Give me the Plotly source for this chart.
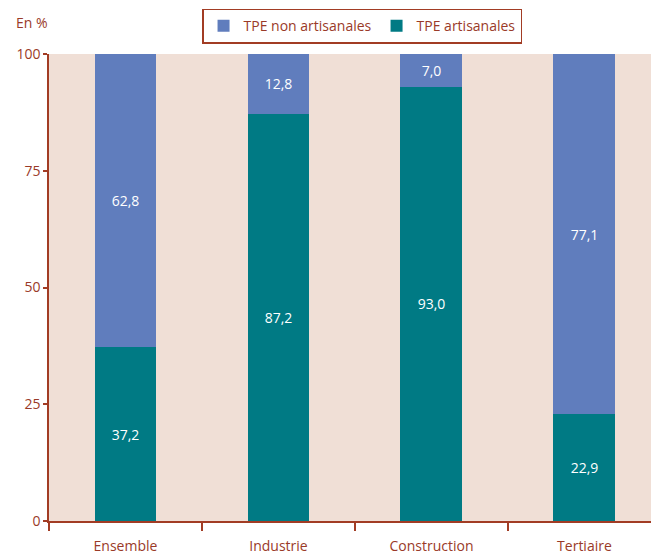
import plotly.graph_objects as go

categories = ["Ensemble", "Industrie", "Construction", "Tertiaire"]
non_artisanales = [62.8, 12.8, 7.0, 77.1]
artisanales = [37.2, 87.2, 93.0, 22.9]
yticks = [0, 25, 50, 75, 100]

def fr(v):
    return f"{v:.1f}".replace(".", ",")

AX = "#a23c24"
TXT = "#9a3a28"
FONT = "Open Sans"

fig = go.Figure()
fig.add_trace(go.Bar(
    x=categories, y=artisanales, name="TPE artisanales",
    marker=dict(color="#007a84", line=dict(width=0)),
    text=[fr(v) for v in artisanales], textposition="inside",
    insidetextanchor="middle", textangle=0,
    textfont=dict(color="white", size=14, family=FONT), width=0.405,
))
fig.add_trace(go.Bar(
    x=categories, y=non_artisanales, name="TPE non artisanales",
    marker=dict(color="#607dbd", line=dict(width=0)),
    text=[fr(v) for v in non_artisanales], textposition="inside",
    insidetextanchor="middle", textangle=0,
    textfont=dict(color="white", size=14, family=FONT), width=0.405,
))

fig.update_layout(
    barmode="stack",
    width=651, height=554,
    margin=dict(l=49, r=0, t=54, b=33),
    paper_bgcolor="white",
    plot_bgcolor="#f0dfd6",
    font=dict(family=FONT, size=14, color=TXT),
    uniformtext=dict(mode="show", minsize=10),
    showlegend=True,
    legend=dict(
        orientation="h", traceorder="reversed",
        x=0.52, xanchor="center", y=1.022, yanchor="bottom",
        bordercolor=AX, borderwidth=1.5, bgcolor="white",
        font=dict(size=14, color=TXT, family=FONT),
        itemwidth=30,
    ),
    xaxis=dict(
        type="category", range=[-0.5, 3.435],
        tickson="boundaries", ticks="outside", ticklen=8, tickcolor=AX, tickwidth=1.5,
        showline=True, linecolor=AX, linewidth=1.5,
        showgrid=False, zeroline=False,
        ticklabelstandoff=11,
        tickfont=dict(size=14, color=TXT),
    ),
    yaxis=dict(
        range=[0, 100], tickvals=yticks,
        ticks="outside", ticklen=4, tickcolor=AX, tickwidth=1.5,
        showline=True, linecolor=AX, linewidth=1.5,
        showgrid=False, zeroline=False,
        tickfont=dict(size=14, color=TXT),
    ),
    annotations=[dict(
        text="En %", xref="paper", yref="paper",
        x=-0.058, y=1.068, xanchor="left", yanchor="middle",
        showarrow=False, font=dict(size=14, color=TXT, family=FONT),
    )],
)

fig.write_html(
    "out.html",
    config={"displayModeBar": False},
    post_script="document.body.style.margin='0';document.body.style.overflow='hidden';",
)
